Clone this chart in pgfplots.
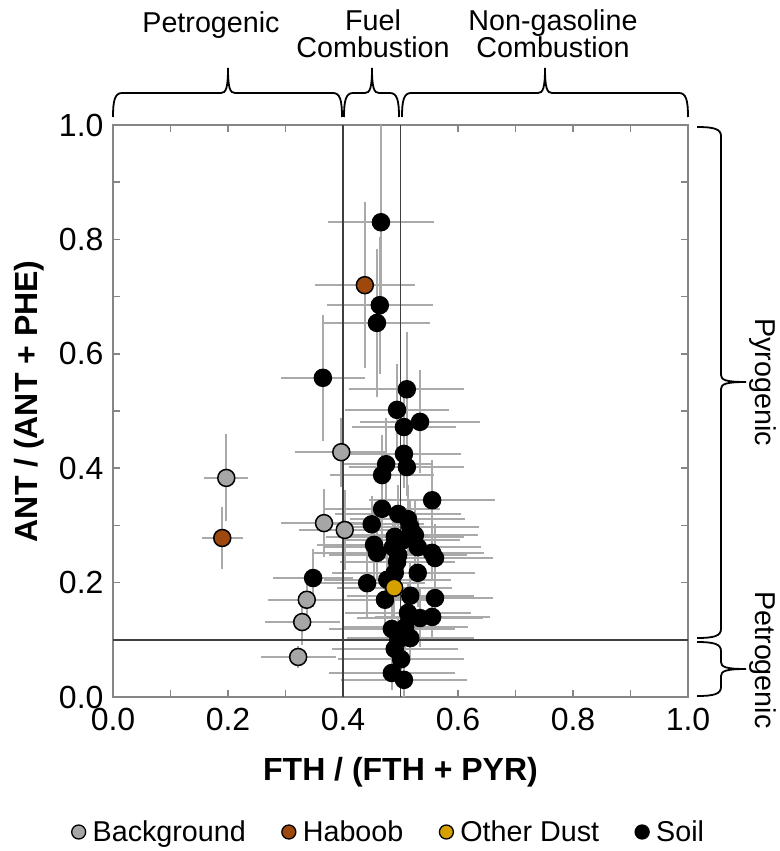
\documentclass[border=0pt]{standalone}
\usepackage{pgfplots}
\pgfplotsset{compat=1.18}
\usepackage{pgfplotstable}
\usepackage{fontspec}
\setmainfont{Liberation Sans}

\definecolor{bggray}{RGB}{166,166,166}
\definecolor{haboob}{RGB}{158,72,14}
\definecolor{dust}{RGB}{214,160,0}
\definecolor{errgray}{RGB}{170,170,170}
\definecolor{axgray}{RGB}{134,134,134}
\definecolor{refline}{RGB}{64,64,64}

\pgfplotstableread{
x y ex ey
0.197 0.383 0.038 0.076
0.397 0.428 0.080 0.060
0.367 0.304 0.075 0.060
0.403 0.292 0.080 0.070
0.337 0.170 0.068 0.045
0.329 0.131 0.065 0.040
0.322 0.070 0.065 0.020
}\bgdata

\pgfplotstableread{
x y ex ey
0.438 0.720 0.087 0.145
0.190 0.278 0.036 0.055
}\habdata

\pgfplotstableread{
x y ex ey
0.489 0.191 0.100 0.050
}\dustdata

\pgfplotstableread{
x y ex ey
0.466 0.830 0.092 0.170
0.464 0.685 0.092 0.120
0.459 0.654 0.092 0.130
0.365 0.558 0.073 0.110
0.511 0.538 0.100 0.100
0.494 0.502 0.090 0.080
0.534 0.481 0.105 0.090
0.506 0.472 0.090 0.060
0.506 0.425 0.100 0.060
0.511 0.402 0.100 0.050
0.475 0.407 0.080 0.080
0.468 0.388 0.090 0.070
0.555 0.344 0.110 0.070
0.468 0.329 0.100 0.060
0.496 0.320 0.110 0.050
0.513 0.311 0.100 0.060
0.450 0.302 0.090 0.050
0.517 0.297 0.120 0.050
0.525 0.283 0.110 0.060
0.490 0.280 0.120 0.050
0.504 0.274 0.100 0.060
0.454 0.266 0.100 0.060
0.530 0.262 0.110 0.050
0.487 0.262 0.120 0.060
0.555 0.252 0.090 0.050
0.459 0.252 0.110 0.050
0.560 0.243 0.100 0.060
0.496 0.248 0.120 0.050
0.494 0.236 0.100 0.060
0.530 0.217 0.100 0.060
0.490 0.217 0.110 0.050
0.348 0.208 0.070 0.050
0.442 0.199 0.100 0.060
0.477 0.205 0.110 0.050
0.473 0.170 0.100 0.050
0.517 0.177 0.110 0.060
0.560 0.173 0.100 0.050
0.513 0.147 0.110 0.050
0.534 0.138 0.110 0.050
0.555 0.140 0.100 0.040
0.485 0.119 0.110 0.050
0.508 0.122 0.110 0.050
0.517 0.103 0.110 0.040
0.496 0.100 0.110 0.040
0.490 0.084 0.110 0.040
0.501 0.066 0.110 0.040
0.485 0.042 0.110 0.030
0.506 0.030 0.110 0.030
}\soildata

\newcommand{\topbrace}[3]{%
  \draw[line width=1.8pt,black]
    (#1,117) .. controls (#1,100) and ({#1+2},93) .. ({#1+9},93)
    -- ({#2-7},93) .. controls ({#2-2},93) and (#2,88) .. (#2,68)
    .. controls (#2,88) and ({#2+2},93) .. ({#2+7},93)
    -- ({#3-9},93) .. controls ({#3-2},93) and (#3,100) .. (#3,117);}
\newcommand{\rightbrace}[3]{%
  \draw[line width=1.8pt,black]
    (697,#1) .. controls (714,#1) and (721,{#1+2}) .. (721,{#1+9})
    -- (721,{#2-7}) .. controls (721,{#2-2}) and (726,#2) .. (746,#2)
    .. controls (726,#2) and (721,{#2+2}) .. (721,{#2+7})
    -- (721,{#3-9}) .. controls (721,{#3-2}) and (714,#3) .. (697,#3);}

\pgfplotsset{
  errbars/.style={forget plot, draw=none, mark=none,
    error bars/.cd, x dir=both, x explicit, y dir=both, y explicit,
    error mark=none,
    error bar style={draw=errgray, line width=1.8pt, solid}},
  dots/.style={forget plot, only marks, mark=*, mark size=8.5pt,
    mark options={fill=#1, draw=black, line width=1.5pt}},
  legdot/.style={only marks, mark=*, mark size=7pt,
    mark options={fill=#1, draw=black, line width=1.3pt},
    legend image code/.code={\draw[##1] plot coordinates {(0pt,0pt)};}},
}

\begin{document}
\begin{tikzpicture}
\useasboundingbox (0,0) rectangle (779pt,-851pt);
\begin{axis}[
  at={(113pt,-697pt)}, anchor=south west,
  scale only axis, width=575pt, height=572pt,
  xmin=0, xmax=1, ymin=0, ymax=1,
  xtick={0,0.2,0.4,0.6,0.8,1}, minor xtick={0.1,0.3,0.5,0.7,0.9},
  ytick={0,0.2,0.4,0.6,0.8,1}, minor ytick={0.1,0.3,0.5,0.7,0.9},
  tick align=inside, xtick pos=both, ytick pos=both,
  major tick length=7pt, minor tick length=7pt,
  axis line style={draw=axgray, line width=1.8pt},
  every tick/.style={draw=axgray, line width=1.5pt},
  every minor tick/.style={draw=axgray, line width=1.5pt},
  tick label style={font=\fontsize{32}{38}\selectfont, text=black},
  xticklabel shift=8pt,
  yticklabel shift=6pt,
  /pgf/number format/.cd, fixed, fixed zerofill, precision=1, assume math mode=true,
  /pgfplots/.cd,
  every axis x label/.style={at={(axis description cs:0.5,0)}, anchor=north,
    inner sep=0pt, yshift=-60pt, font=\bfseries\fontsize{32}{38}\selectfont},
  every axis y label/.style={at={(axis description cs:-0.12,0.517)}, rotate=90,
    anchor=south, inner sep=0pt, font=\bfseries\fontsize{32}{38}\selectfont},
  xlabel={FTH / (FTH + PYR)},
  ylabel={ANT / (ANT + PHE)},
  legend columns=4,
  legend style={at={(axis description cs:0.478,-0.236)}, anchor=center,
    draw=none, fill=none, font=\fontsize{28.7}{34}\selectfont,
    inner sep=0pt,
    nodes={inner sep=0pt},
    /tikz/every odd column/.append style={column sep=7pt},
    /tikz/every even column/.append style={column sep=36pt}},
]
% error bars first (behind everything)
\addplot[errbars] table[x=x, y=y, x error=ex, y error=ey] {\soildata};
\addplot[errbars] table[x=x, y=y, x error=ex, y error=ey] {\bgdata};
\addplot[errbars] table[x=x, y=y, x error=ex, y error=ey] {\habdata};
\addplot[errbars] table[x=x, y=y, x error=ex, y error=ey] {\dustdata};
% reference lines
\draw[refline, line width=1.4pt] (axis cs:0.4,0) -- (axis cs:0.4,1);
\draw[refline, line width=1.4pt] (axis cs:0.5,0) -- (axis cs:0.5,1);
\draw[refline, line width=1.4pt] (axis cs:0,0.1) -- (axis cs:1,0.1);
% markers
\addplot[dots=black] table[x=x, y=y] {\soildata};
\addplot[dots=bggray] table[x=x, y=y] {\bgdata};
\addplot[dots=haboob] table[x=x, y=y] {\habdata};
\addplot[dots=dust] table[x=x, y=y] {\dustdata};
% legend
\addlegendimage{legdot=bggray}\addlegendentry{Background}
\addlegendimage{legdot=haboob}\addlegendentry{Haboob}
\addlegendimage{legdot=dust}\addlegendentry{Other Dust}
\addlegendimage{legdot=black}\addlegendentry{Soil}
\end{axis}
\begin{scope}[x=1pt, y=-1pt]
\topbrace{113}{228}{342}
\topbrace{344}{372}{399}
\topbrace{402}{545}{688}
\rightbrace{127}{382}{638}
\rightbrace{642}{669}{696}
\begin{scope}[every node/.style={font=\fontsize{28.7}{34}\selectfont, inner sep=0pt}]
\node[anchor=base] at (211,33) {Petrogenic};
\node[anchor=base] at (373,31) {Fuel};
\node[anchor=base] at (373,58) {Combustion};
\node[anchor=base] at (553,31) {Non-gasoline};
\node[anchor=base] at (553,58) {Combustion};
\node[rotate=-90, anchor=center] at (763,382) {Pyrogenic};
\node[rotate=-90, anchor=center] at (763,660) {Petrogenic};
\end{scope}
\end{scope}
\end{tikzpicture}
\end{document}
